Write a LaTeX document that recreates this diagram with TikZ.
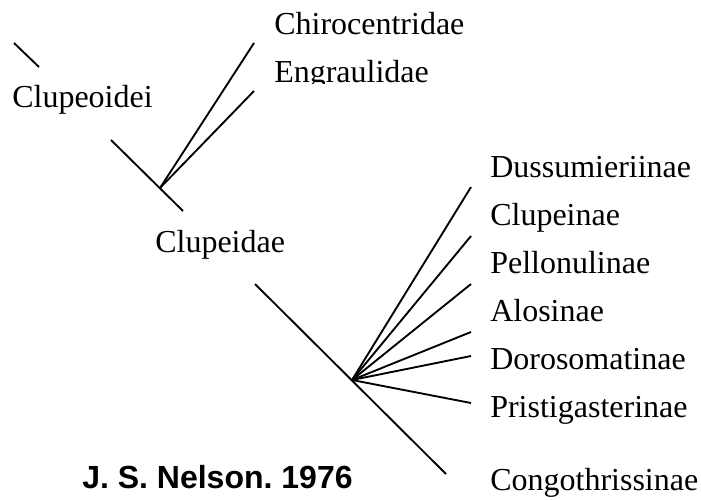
\documentclass[tikz,border=0pt]{standalone}
\usepackage{fontspec}
\setmainfont{Liberation Serif}
\newfontfamily\labelsans{Liberation Sans}
\frenchspacing
\begin{document}
\begin{tikzpicture}[x=0.75pt,y=-0.75pt,
  taxon/.style={anchor=base west,inner sep=0pt,font=\fontsize{24}{28}\selectfont},
  credit/.style={anchor=base west,inner sep=0pt,font=\labelsans\bfseries\fontsize{24}{28}\selectfont},
  branch/.style={line width=1.4pt,line cap=butt}]
\useasboundingbox (0,0) rectangle (701,500);
% labels
\node[taxon] (clupeoidei) at (12,107) {Clupeoidei};
\node[taxon] (chiro) at (274,34) {Chirocentridae};
\begin{scope}
\clip (260,40) rectangle (500,83);
\node[taxon] (engr) at (274,82) {Engraulidae};
\end{scope}
\node[taxon] (clupeidae) at (155,252) {Clupeidae};
\node[taxon] (duss) at (490,177) {Dussumieriinae};
\node[taxon] (clupeinae) at (490,225) {Clupeinae};
\node[taxon] (pell) at (490,273) {Pellonulinae};
\node[taxon] (alos) at (490,321) {Alosinae};
\node[taxon] (doro) at (490,369) {Dorosomatinae};
\node[taxon] (prist) at (490,417) {Pristigasterinae};
\node[taxon] (congo) at (490,490) {Congothrissinae};
\node[credit] (nelson) at (82,488) {J. S. Nelson. 1976};
% tree coordinates
\coordinate (s1) at (14,43);
\coordinate (s2) at (39,67);
\coordinate (a1) at (111,140);
\coordinate (a2) at (183,211);
\coordinate (n1) at (160,188);
\coordinate (e1) at (254,43);
\coordinate (e2) at (254,91);
\coordinate (b1) at (255,284);
\coordinate (b2) at (446,474);
\coordinate (n2) at (352,380);
\coordinate (t1) at (471,187);
\coordinate (t2) at (471,236);
\coordinate (t3) at (471,284);
\coordinate (t4) at (471,332);
\coordinate (t5) at (471,356);
\coordinate (t6) at (471,403);
% branches
\draw[branch] (s1) -- (s2);
\draw[branch] (a1) -- (a2);
\draw[branch] (n1) -- (e1);
\draw[branch] (n1) -- (e2);
\draw[branch] (b1) -- (b2);
\foreach \t in {t1,t2,t3,t4,t5,t6} \draw[branch] (n2) -- (\t);
\end{tikzpicture}
\end{document}
